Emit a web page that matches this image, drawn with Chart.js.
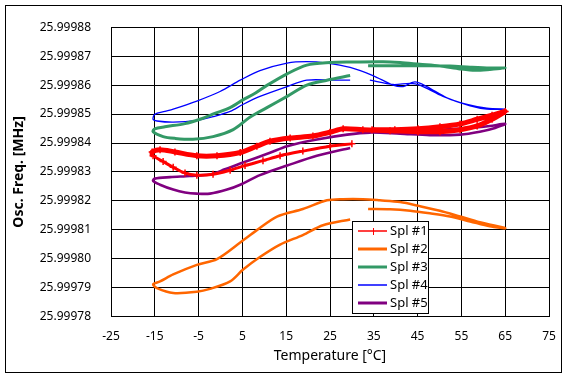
<!DOCTYPE html>
<html><head><meta charset="utf-8">
<script src="https://cdn.jsdelivr.net/npm/chart.js@4/dist/chart.umd.min.js"></script>
<style>html,body{margin:0;padding:0;background:#fff}#wrap{width:571px;height:382px;position:relative}</style>
</head><body><div id="wrap"><canvas id="c" width="571" height="382"></canvas></div>
<script>
const xTicks = [-25, -15, -5, 5, 15, 25, 35, 45, 55, 65, 75];
const yTicks = [25.99978, 25.99979, 25.9998, 25.99981, 25.99982, 25.99983, 25.99984, 25.99985, 25.99986, 25.99987, 25.99988];
const seriesNames = ['Spl #1', 'Spl #2', 'Spl #3', 'Spl #4', 'Spl #5'];

const spl1Temp = [30.0, 25.0, 18.8, 13.6, 9.7, 5.6, 2.2, -1.7, -5.4, -8.1, -10.8, -13.1, -15.4,
  -15.6, -13.8, -10.4, -5.4, -0.8, 4.5, 8.3, 11.3, 15.9, 21.1, 25.0, 28.0, 32.5, 38.7, 45.1, 50.1, 54.7, 58.6, 62.0, 65.0,
  62.0, 58.6, 54.7, 50.1, 45.1, 39.8, 34.6];
const spl1Freq = [25.9998397, 25.9998389, 25.9998372, 25.9998356, 25.9998339, 25.9998322, 25.9998306, 25.9998292, 25.9998289, 25.9998296, 25.9998316, 25.9998336, 25.9998356,
  25.9998369, 25.9998377, 25.9998369, 25.9998356, 25.9998356, 25.9998367, 25.9998389, 25.9998406, 25.9998417, 25.9998424, 25.9998437, 25.9998449, 25.9998446, 25.9998442, 25.9998439, 25.9998439, 25.9998446, 25.9998459, 25.9998482, 25.9998509,
  25.9998496, 25.9998482, 25.9998466, 25.9998456, 25.9998449, 25.9998446, 25.9998446];

const spl2Temp = [29.6, 23.4, 18.8, 13.6, 9.0, 5.1, 2.2, -2.4, -5.4, -10.8, -14.5, -15.4,
  -13.8, -10.8, -5.4, -0.8, 4.5, 8.3, 12.9, 18.8, 24.3, 28.0, 32.5, 36.4, 41.0, 45.5, 50.1, 54.7, 59.2, 65.0,
  61.5, 57.0, 52.4, 47.8, 43.3, 38.7, 33.7];
const spl2Freq = [25.9998136, 25.9998116, 25.9998082, 25.9998049, 25.9998006, 25.9997962, 25.9997922, 25.9997896, 25.9997886, 25.9997882, 25.9997899, 25.9997912,
  25.9997922, 25.9997946, 25.9997979, 25.9997999, 25.9998056, 25.9998099, 25.9998146, 25.9998172, 25.9998202, 25.9998206, 25.9998206, 25.9998202, 25.9998196, 25.9998182, 25.9998166, 25.9998146, 25.9998126, 25.9998106,
  25.9998112, 25.9998129, 25.9998146, 25.9998157, 25.9998166, 25.9998171, 25.9998172];

const spl3Temp = [29.6, 24.3, 19.7, 15.2, 10.6, 6.7, 2.9, -1.7, -6.3, -10.4, -13.1, -15.4,
  -15.0, -12.7, -8.1, -4.7, -1.3, 2.2, 5.1, 7.9, 10.6, 15.2, 19.7, 25.0, 29.6, 37.1, 41.0, 45.5, 50.1, 54.7, 58.1, 61.5, 65.0,
  61.5, 57.0, 52.4, 47.8, 41.0, 33.7];
const spl3Freq = [25.9998633, 25.9998617, 25.99986, 25.9998561, 25.9998522, 25.9998489, 25.9998446, 25.9998422, 25.9998413, 25.9998416, 25.9998422, 25.9998439,
  25.9998449, 25.9998456, 25.9998467, 25.9998482, 25.9998502, 25.9998522, 25.9998549, 25.9998572, 25.9998599, 25.9998639, 25.9998669, 25.9998678, 25.999868, 25.9998681, 25.9998678, 25.9998672, 25.9998666, 25.9998656, 25.9998651, 25.9998654, 25.9998659,
  25.9998659, 25.9998662, 25.9998666, 25.9998667, 25.9998667, 25.9998667];

const spl4Temp = [29.6, 25.7, 19.7, 15.2, 9.0, 5.1, 2.2, -1.7, -5.4, -10.8, -14.5, -15.4,
  -15.0, -12.7, -10.8, -5.4, -0.1, 4.5, 9.0, 15.2, 19.7, 24.3, 29.6, 34.8, 39.4, 41.7, 44.4, 47.1, 51.7, 56.3, 60.8, 65.0,
  60.8, 57.0, 50.8, 45.5, 43.3, 39.4, 34.1];
const spl4Freq = [25.9998617, 25.9998617, 25.9998617, 25.9998595, 25.9998561, 25.9998533, 25.9998509, 25.9998491, 25.9998478, 25.9998472, 25.9998476, 25.9998482,
  25.9998499, 25.9998509, 25.9998517, 25.9998545, 25.9998578, 25.9998617, 25.999865, 25.9998676, 25.9998681, 25.9998676, 25.9998661, 25.9998633, 25.99986, 25.9998595, 25.9998611, 25.9998595, 25.9998556, 25.9998533, 25.999852, 25.9998517,
  25.9998517, 25.9998528, 25.9998561, 25.99986, 25.9998606, 25.9998602, 25.9998617];

const spl5Temp = [29.6, 22.0, 15.2, 9.0, 4.5, 1.5, -2.4, -5.4, -8.1, -10.8, -13.8, -15.4,
  -15.0, -11.5, -7.0, -2.2, 1.0, 4.5, 11.3, 15.2, 22.0, 28.9, 34.1, 41.0, 47.8, 54.7, 59.2, 62.7, 65.0,
  61.5, 57.0, 50.1, 43.3, 36.4];
const spl5Freq = [25.9998383, 25.9998356, 25.9998322, 25.9998289, 25.9998256, 25.9998239, 25.9998225, 25.9998225, 25.9998229, 25.9998239, 25.9998256, 25.9998269,
  25.9998277, 25.9998282, 25.9998286, 25.9998292, 25.9998309, 25.9998329, 25.9998366, 25.9998389, 25.9998412, 25.9998429, 25.9998436, 25.9998432, 25.9998427, 25.9998429, 25.9998439, 25.9998452, 25.9998466,
  25.9998459, 25.9998452, 25.9998446, 25.9998439, 25.9998439];

const temps = [spl1Temp, spl2Temp, spl3Temp, spl4Temp, spl5Temp];
const freqs = [spl1Freq, spl2Freq, spl3Freq, spl4Freq, spl5Freq];
const colors = ['#ff0000', '#ff6600', '#339966', '#0000ff', '#800080'];
const widths = [5, 2.5, 3, 1.3, 2.6];

const FONT = "'Noto Sans', 'DejaVu Sans', sans-serif";

const datasets = seriesNames.map((name, i) => {
  const ds = {
    label: name,
    data: temps[i].map((t, j) => ({x: t, y: freqs[i][j]})),
    showLine: true,
    borderColor: colors[i],
    backgroundColor: colors[i],
    borderWidth: widths[i],
    tension: 0.3,
    pointRadius: i === 0 ? 3.5 : 0,
    pointStyle: 'cross',
    pointBorderWidth: 1.5,
    pointBorderColor: colors[i],
    fill: false
  };
  if (i === 0) ds.segment = {borderWidth: c => (c.p0DataIndex < 12 ? 3 : 5)};
  return ds;
});

const framePlugin = {
  id: 'frame',
  beforeDraw(chart) {
    const ctx = chart.ctx;
    ctx.save();
    ctx.fillStyle = '#fff';
    ctx.fillRect(0, 0, chart.width, chart.height);
    ctx.restore();
  },
  afterDraw(chart) {
    const ctx = chart.ctx;
    ctx.save();
    ctx.strokeStyle = '#000';
    ctx.lineWidth = 1;
    ctx.strokeRect(5.5, 5.5, 556, 367);
    // legend
    const lx = 352.5, ly = 221.5, lw = 76, lh = 92;
    ctx.fillStyle = '#fff';
    ctx.fillRect(lx, ly, lw, lh);
    ctx.strokeRect(lx, ly, lw, lh);
    ctx.font = '13px ' + FONT;
    ctx.textBaseline = 'middle';
    ctx.textAlign = 'left';
    chart.data.datasets.forEach((ds, i) => {
      const y = 231 + i * 18;
      ctx.strokeStyle = ds.borderColor;
      ctx.lineWidth = i === 0 ? 1.5 : (i === 3 ? 1.5 : 3);
      ctx.beginPath();
      ctx.moveTo(358, y);
      ctx.lineTo(387, y);
      ctx.stroke();
      if (i === 0) {
        ctx.lineWidth = 1;
        ctx.beginPath();
        ctx.moveTo(373.5, y - 3);
        ctx.lineTo(373.5, y + 4);
        ctx.stroke();
      }
      ctx.fillStyle = '#000';
      ctx.fillText(ds.label, 390, y + 0.5);
    });
    ctx.restore();
  }
};

new Chart(document.getElementById('c'), {
  type: 'scatter',
  data: {datasets},
  options: {
    responsive: false,
    animation: false,
    devicePixelRatio: 1,
    layout: {padding: {left: 0, right: 22, top: 16.7, bottom: 0}},
    plugins: {legend: {display: false}, tooltip: {enabled: false}},
    scales: {
      x: {
        type: 'linear',
        min: -25, max: 75,
        afterBuildTicks: s => { s.ticks = xTicks.map(v => ({value: v})); },
        afterFit: s => { s.height = 65.3; },
        grid: {color: '#000', lineWidth: 1, drawTicks: false},
        border: {color: '#000', width: 1},
        ticks: {color: '#000', font: {family: FONT, size: 12}, padding: 13, autoSkip: false, maxRotation: 0,
          callback: v => String(v)},
        title: {display: true, text: 'Temperature [°C]', color: '#000',
          font: {family: FONT, size: 14}, padding: {top: 0, bottom: 17.5}}
      },
      y: {
        type: 'linear',
        min: 25.99978, max: 25.99988,
        afterBuildTicks: s => { s.ticks = yTicks.map(v => ({value: v})); },
        afterFit: s => { s.width = 111; },
        grid: {color: '#000', lineWidth: 1, drawTicks: false},
        border: {color: '#000', width: 1},
        ticks: {color: '#000', font: {family: FONT, size: 12}, padding: 20, autoSkip: false,
          callback: v => Number(v).toFixed(5)},
        title: {display: true, text: 'Osc. Freq. [MHz]', color: '#000',
          font: {family: FONT, size: 14, weight: 'bold'}, padding: {top: 11, bottom: 0}}
      }
    }
  },
  plugins: [framePlugin]
});
</script></body></html>
